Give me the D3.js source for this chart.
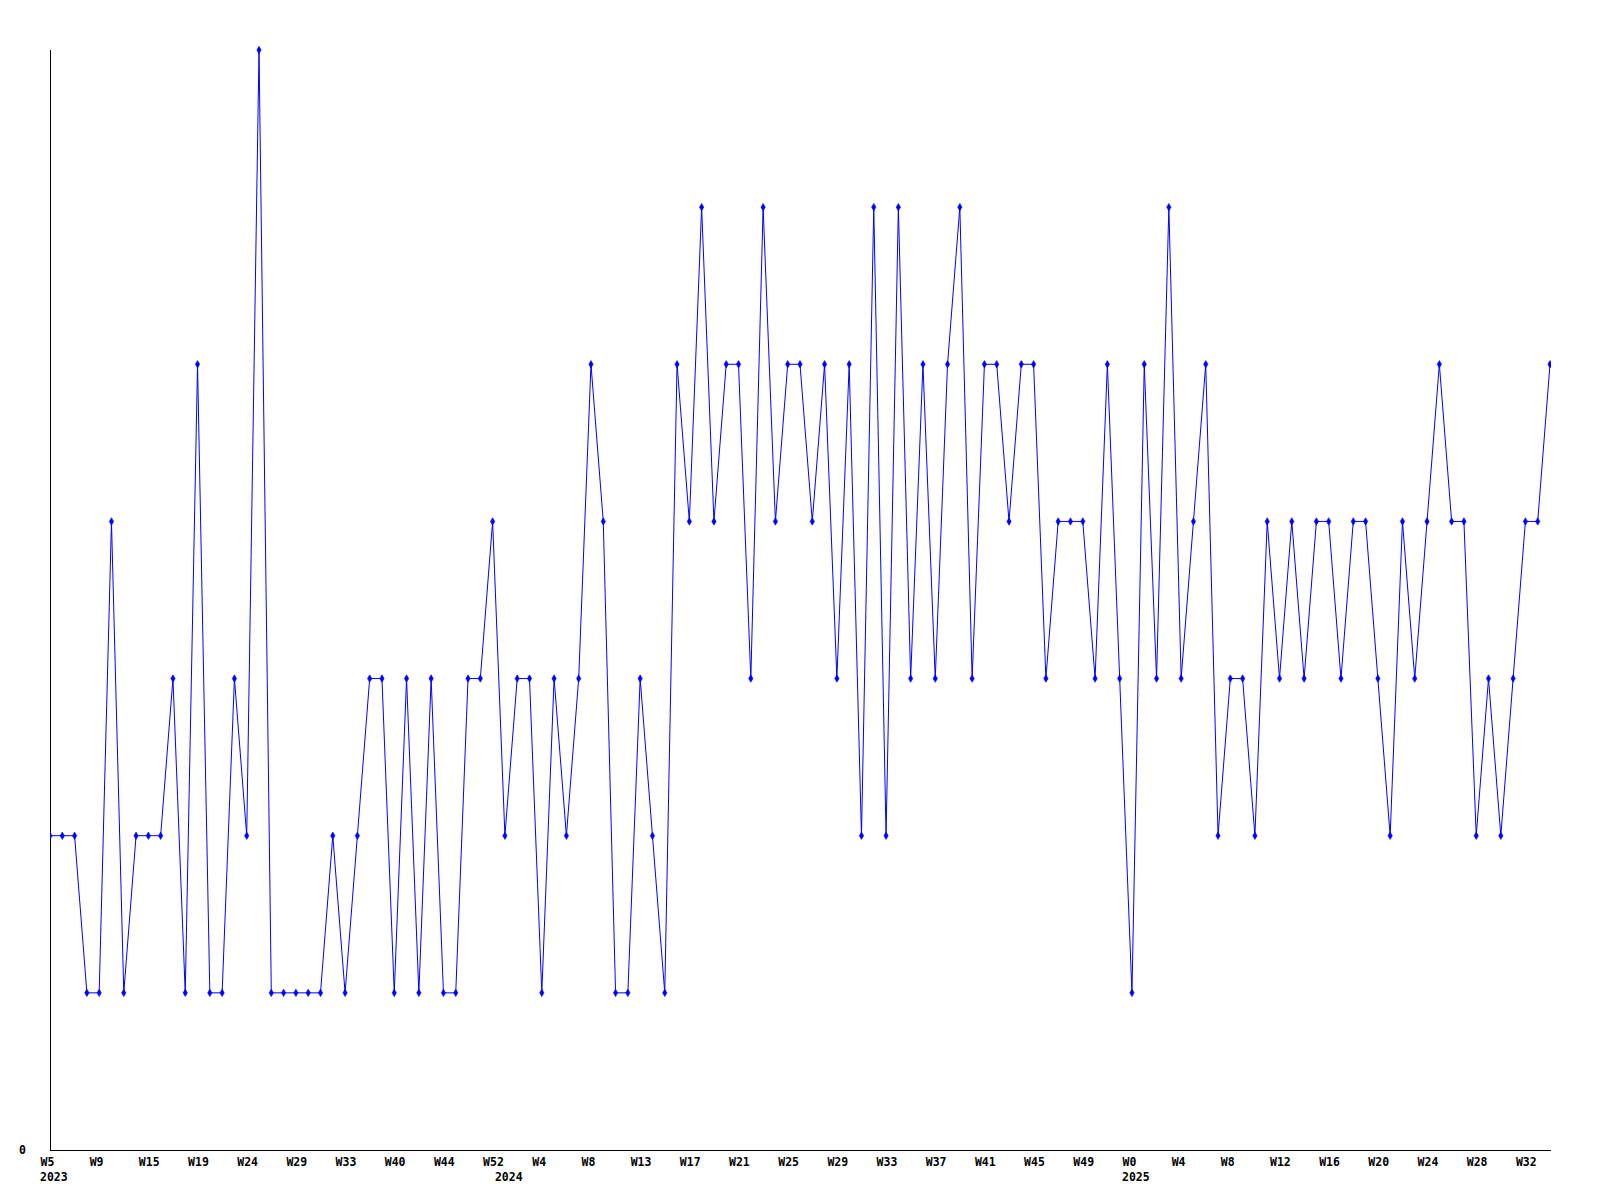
<!DOCTYPE html>
<html>
<head>
<meta charset="utf-8">
<script src="https://cdn.jsdelivr.net/npm/d3@7"></script>
<style>
  html, body { margin: 0; padding: 0; background: #fff; }
  svg { display: block; }
  text { font-family: "DejaVu Sans Mono", "Liberation Mono", monospace; font-weight: bold; font-size: 11.5px; fill: #000; }
</style>
</head>
<body>
<svg id="chart" width="1600" height="1200"></svg>
<script>
// ---- data ----
const values = [
  2,2,2,1,1,4,1,2,2,2,
  3,1,5,1,1,3,2,7,1,1,
  1,1,1,2,1,2,3,3,1,3,
  1,3,1,1,3,3,4,2,3,3,
  1,3,2,3,5,4,1,1,3,2,
  1,5,4,6,4,5,5,3,6,4,
  5,5,4,5,3,5,2,6,2,6,
  3,5,3,5,6,3,5,5,4,5,
  5,3,4,4,4,3,5,3,1,5,
  3,6,3,4,5,2,3,3,2,4,
  3,4,3,4,4,3,4,4,3,2,
  4,3,4,5,4,4,2,3,2,3,
  4,4,5
];
const tickIndex = [0,4,8,12,16,20,24,28,32,36,40,44,48,52,56,60,64,68,72,76,80,84,88,92,96,100,104,108,112,116,120];
const tickLabels = ["W5","W9","W15","W19","W24","W29","W33","W40","W44","W52","W4","W8","W13","W17","W21","W25","W29","W33","W37","W41","W45","W49","W0","W4","W8","W12","W16","W20","W24","W28","W32"];
const yearIndex = [0, 37, 88];
const yearLabels = ["2023", "2024", "2025"];
const yTicks = [0];

(function () {
  // ---- layout ----
  const mLeft = 50, mRight = 1550, mTop = 50, mBottom = 1150;
  const svg = d3.select("#chart");

  const x = d3.scaleLinear().domain([0, values.length - 1]).range([mLeft, mRight]);
  const y = d3.scaleLinear().domain([0, 7]).range([mBottom, mTop]);

  // axes lines
  svg.append("line").attr("x1", mLeft + 0.5).attr("x2", mLeft + 0.5).attr("y1", mTop).attr("y2", mBottom + 1)
    .attr("stroke", "#000").attr("stroke-width", 1);
  svg.append("line").attr("x1", mLeft).attr("x2", mRight + 1).attr("y1", mBottom + 0.5).attr("y2", mBottom + 0.5)
    .attr("stroke", "#000").attr("stroke-width", 1);

  // x axis labels via d3 axis
  const xAxis = d3.axisBottom(x)
    .tickValues(tickIndex)
    .tickFormat((d, i) => tickLabels[i])
    .tickSize(0)
    .tickPadding(0);
  const gx = svg.append("g").attr("transform", `translate(0,${mBottom})`).call(xAxis);
  gx.select(".domain").remove();
  gx.selectAll("text")
    .attr("text-anchor", "start")
    .attr("dx", -10)
    .attr("y", 12)
    .attr("dy", "0.32em")
    .style("font-family", "'DejaVu Sans Mono', monospace")
    .style("font-weight", "bold")
    .style("font-size", "11.5px")
    .style("fill", "#000");

  // year labels
  svg.append("g").selectAll("text").data(yearIndex).join("text")
    .attr("x", d => x(d) - 10)
    .attr("y", mBottom + 27)
    .attr("dy", "0.32em")
    .attr("text-anchor", "start")
    .text((d, i) => yearLabels[i]);

  // y axis label
  const yAxis = d3.axisLeft(y).tickValues(yTicks).tickSize(0).tickPadding(24).tickFormat(d3.format("d"));
  const gy = svg.append("g").attr("transform", `translate(${mLeft},0)`).call(yAxis);
  gy.select(".domain").remove();
  gy.selectAll("text")
    .style("font-family", "'DejaVu Sans Mono', monospace")
    .style("font-weight", "bold")
    .style("font-size", "11.5px")
    .style("fill", "#000");

  // clip
  svg.append("clipPath").attr("id", "plotclip").append("rect")
    .attr("x", mLeft).attr("y", mTop - 5).attr("width", mRight - mLeft + 1).attr("height", mBottom - mTop + 10);

  const plot = svg.append("g").attr("clip-path", "url(#plotclip)");

  // line
  const line = d3.line().x((d, i) => x(i)).y(d => y(d));
  plot.append("path").datum(values)
    .attr("d", line)
    .attr("fill", "none")
    .attr("stroke", "#0000ff")
    .attr("stroke-width", 1);

  // markers
  plot.append("g").selectAll("path").data(values).join("path")
    .attr("transform", (d, i) => `translate(${x(i)},${y(d)})`)
    .attr("d", d3.symbol().type(d3.symbolDiamond).size(16))
    .attr("fill", "#0000ff")
    .attr("stroke", "#0000ff")
    .attr("stroke-width", 0.6);
})();
</script>
</body>
</html>
